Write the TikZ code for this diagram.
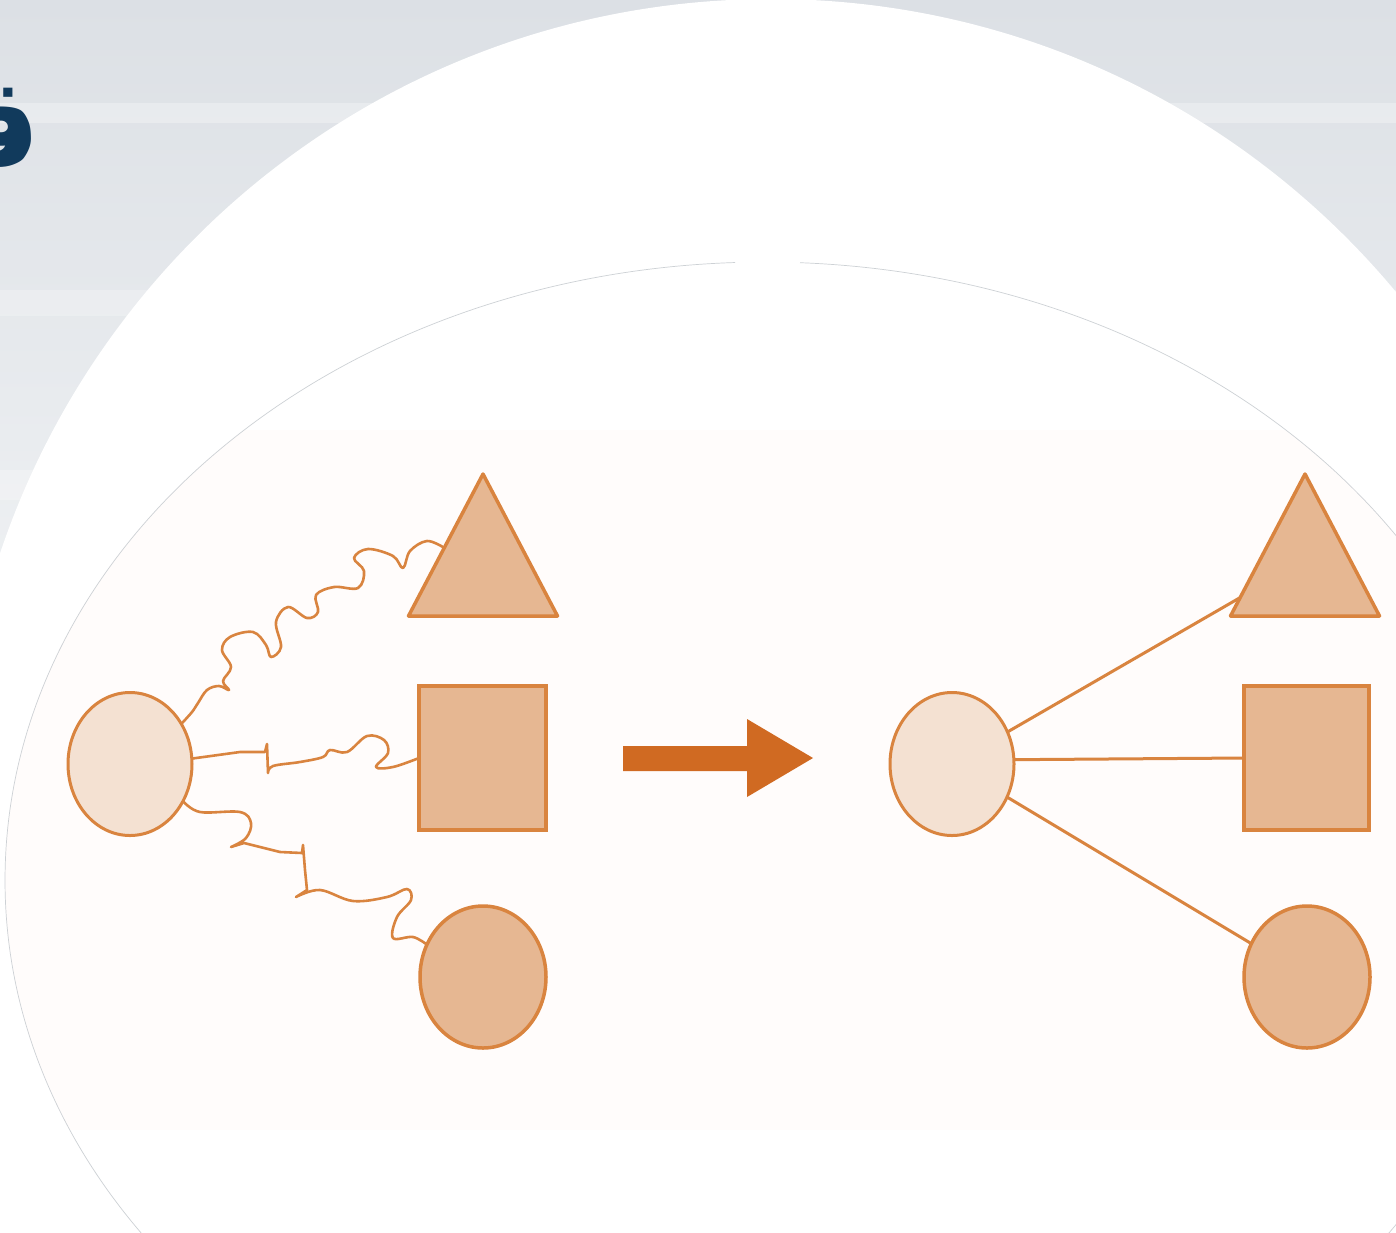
\documentclass[tikz,border=0pt]{standalone}
\usepackage{fontspec}
\usetikzlibrary{shapes.geometric,calc}
\TeXXeTstate=1
\newfontfamily\arabicfont[Script=Arabic]{DejaVu Sans}
\definecolor{stk}{HTML}{D9843F}
\definecolor{shp}{HTML}{E6B792}
\definecolor{lite}{HTML}{F4E1D2}
\definecolor{arw}{HTML}{D06A22}
\definecolor{navy}{HTML}{113A5C}
\definecolor{gtop}{HTML}{DCE0E5}
\definecolor{gbot}{HTML}{F1F3F5}
\definecolor{rim}{HTML}{CDD1D5}
\definecolor{pinkbg}{HTML}{FFFCFB}
\begin{document}
\begin{tikzpicture}[x=1pt,y=-1pt,
  shapebox/.style={draw=stk, line width=3.5pt, fill=shp, inner sep=0pt, outer sep=0pt},
  sqbox/.style={shapebox, rectangle, minimum width=127pt, minimum height=144pt},
  circbox/.style={shapebox, ellipse, minimum width=126pt, minimum height=142pt},
  litebox/.style={shapebox, ellipse, fill=lite, line width=3pt, minimum width=124pt, minimum height=143pt},
  tribox/.style={shapebox, isosceles triangle, shape border rotate=90, isosceles triangle stretches, minimum width=149pt, minimum height=142pt, line join=round},
  wig/.style={draw=stk, line width=2.6pt, line join=round, line cap=round},
  link/.style={draw=stk, line width=3pt}
]
\useasboundingbox (0,0) rectangle (1396,1232);
\clip (0,0) rectangle (1396,1232);
% background
\shade[top color=gtop, bottom color=gbot] (0,0) rectangle (1396,700);
\fill[white, opacity=0.3] (0,103) rectangle (1396,123);
\fill[white, opacity=0.25] (0,290) rectangle (1396,316);
\fill[white, opacity=0.25] (0,470) rectangle (1396,500);
\fill[white] (771,812) circle[radius=813];
\begin{scope}
  \clip (765,880) ellipse[x radius=760, y radius=618];
  \fill[pinkbg] (0,430) rectangle (1396,1130);
\end{scope}
\draw[rim, line width=0.7pt] (800,262.7) arc[start angle=272.64, end angle=627.74, x radius=760, y radius=618];
% title letter
\node[anchor=base east, text=navy, inner sep=0pt, font=\arabicfont\bfseries\fontsize{125}{130}\selectfont] (title) at (42,167) {\beginR قـ\endR};
% left group
\node[litebox] (lc1) at (130,764) {};
\node[tribox, anchor=apex] (t1) at (483,474) {};
\node[sqbox] (s1) at (482.5,758) {};
\node[circbox] (c1) at (483,977) {};
\coordinate (t1in) at ($(t1.apex)!0.52!(t1.left corner)$);
\draw[wig] plot[smooth, tension=0.6] coordinates {(lc1.38) (192,712) (198,703) (207,690) (219,686) (229,690) (223,681) (231,667) (222,650) (230,637) (253,632) (266,645) (271,657) (281,647) (276,622) (288,607) (307,618) (318,612) (316,595) (334,587) (358,588) (364,571) (354,558) (368,549) (393,556) (403,568) (410,551) (427,541) (t1in)};
\draw[wig] (lc1.5) -- (240,752) -- (265,752) -- (267,744) -- (268,773) -- plot[smooth, tension=0.6] coordinates {(268,773) (273,766) (300,762) (323,757) (330,750) (347,752) (367,736) (384,740) (388,753) (376,767) (393,767) (s1.west)};
\draw[wig] plot[smooth, tension=0.6] coordinates {(lc1.-35) (200,812) (240,812) (251,823) (246,838) (231,847)} -- (244,843) -- (280,852) -- (302,853) -- (303,845) -- (305,870) -- (307,890) -- (296,897) -- plot[smooth, tension=0.6] coordinates {(296,897) (320,890) (353,901) (387,897) (407,889) (411,900) (397,917) (393,938) (413,937) (c1.150)};
% arrow
\fill[arw] (623,746) -- (747,746) -- (747,719) -- (813,758) -- (747,797) -- (747,771) -- (623,771) -- cycle;
% right group
\node[litebox] (lc2) at (952,764) {};
\node[tribox, anchor=apex] (t2) at (1305,474) {};
\node[sqbox, minimum width=125pt] (s2) at (1306.5,758) {};
\node[circbox] (c2) at (1307,977) {};
\coordinate (t2in) at ($(t2.apex)!0.87!(t2.left corner)$);
\draw[link] (lc2) -- (t2in);
\draw[link] (lc2.4.5) -- (s2.west);
\draw[link] (lc2) -- (c2);
\end{tikzpicture}
\end{document}
